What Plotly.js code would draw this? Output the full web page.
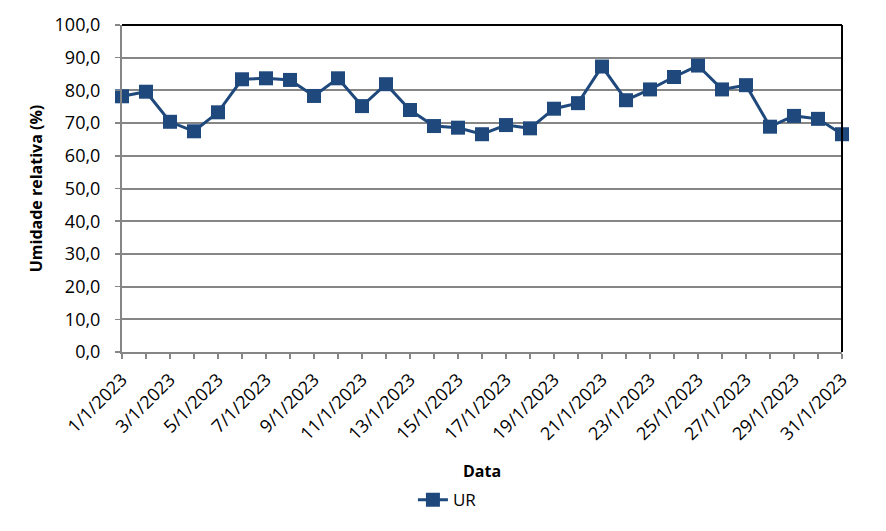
<!DOCTYPE html>
<html>
<head>
<meta charset="utf-8">
<script src="https://cdn.plot.ly/plotly-3.0.1.min.js"></script>
<style>
  html, body { margin: 0; padding: 0; background: #fff; }
  #chart { width: 886px; height: 531px; }
</style>
</head>
<body>
<div id="chart"></div>
<script>
// daily relative humidity, January 2023
const dates = [
  '2023-01-01', '2023-01-02', '2023-01-03', '2023-01-04', '2023-01-05', '2023-01-06',
  '2023-01-07', '2023-01-08', '2023-01-09', '2023-01-10', '2023-01-11', '2023-01-12',
  '2023-01-13', '2023-01-14', '2023-01-15', '2023-01-16', '2023-01-17', '2023-01-18',
  '2023-01-19', '2023-01-20', '2023-01-21', '2023-01-22', '2023-01-23', '2023-01-24',
  '2023-01-25', '2023-01-26', '2023-01-27', '2023-01-28', '2023-01-29', '2023-01-30',
  '2023-01-31'
];
const ur = [
  78.2, 79.6, 70.4, 67.5, 73.3, 83.4, 83.7, 83.2, 78.3, 83.7, 75.2, 81.9,
  74.0, 69.1, 68.6, 66.6, 69.4, 68.4, 74.4, 76.1, 87.3, 77.0, 80.3, 84.1,
  87.6, 80.3, 81.6, 68.9, 72.2, 71.3, 66.6
];

const blue = '#1f497d';
const family = 'Open Sans, sans-serif';
const tickFont = { family: family, size: 18, color: '#000' };

const data = [{
  type: 'scatter',
  mode: 'lines+markers',
  name: 'UR',
  x: dates,
  y: ur,
  line: { color: blue, width: 3 },
  marker: { symbol: 'square', size: 14, color: blue },
  cliponaxis: false,
}];

const layout = {
  width: 886,
  height: 531,
  margin: { l: 122, r: 44, t: 25, b: 179 },
  paper_bgcolor: '#fff',
  plot_bgcolor: '#fff',
  separators: ',.',
  font: { family: family, size: 16, color: '#000' },
  showlegend: true,
  legend: {
    orientation: 'h',
    xref: 'container', yref: 'container',
    x: 0.505, y: 0.058,
    xanchor: 'center', yanchor: 'middle',
    font: { family: family, size: 17 },
  },
  xaxis: {
    type: 'date',
    range: ['2023-01-01', '2023-01-31'],
    tick0: '2023-01-01',
    dtick: 2 * 86400000,
    tickformat: '%-d/%-m/%Y',
    tickangle: -45,
    ticks: 'outside', ticklen: 5, tickwidth: 1.5, tickcolor: '#868686',
    minor: { dtick: 86400000, ticks: 'outside', ticklen: 5, tickwidth: 1.5, tickcolor: '#868686', showgrid: false },
    showline: true, linecolor: '#868686', linewidth: 2,
    showgrid: false, zeroline: false,
    tickfont: tickFont,
    ticklabelstandoff: 3,
    title: { text: '<b>Data</b>', font: { family: family, size: 16 }, standoff: 26 },
  },
  yaxis: {
    range: [0, 100],
    dtick: 10,
    tickformat: '.1f',
    ticks: 'outside', ticklen: 5, tickwidth: 1.5, tickcolor: '#868686',
    showline: true, linecolor: '#868686', linewidth: 2,
    gridcolor: '#868686', gridwidth: 2,
    zeroline: false,
    tickfont: tickFont,
    ticklabelstandoff: 11,
    title: { text: '<b>Umidade relativa (%)</b>', font: { family: family, size: 16 }, standoff: 8 },
  },
  shapes: [
    { type: 'line', xref: 'paper', yref: 'paper', x0: 0, x1: 1, y0: 1, y1: 1, line: { color: '#000', width: 2 } },
    { type: 'line', xref: 'paper', yref: 'paper', x0: 1, x1: 1, y0: 0, y1: 1, line: { color: '#000', width: 2 } },
  ],
};

Plotly.newPlot('chart', data, layout, { displayModeBar: false, staticPlot: true });
</script>
</body>
</html>
